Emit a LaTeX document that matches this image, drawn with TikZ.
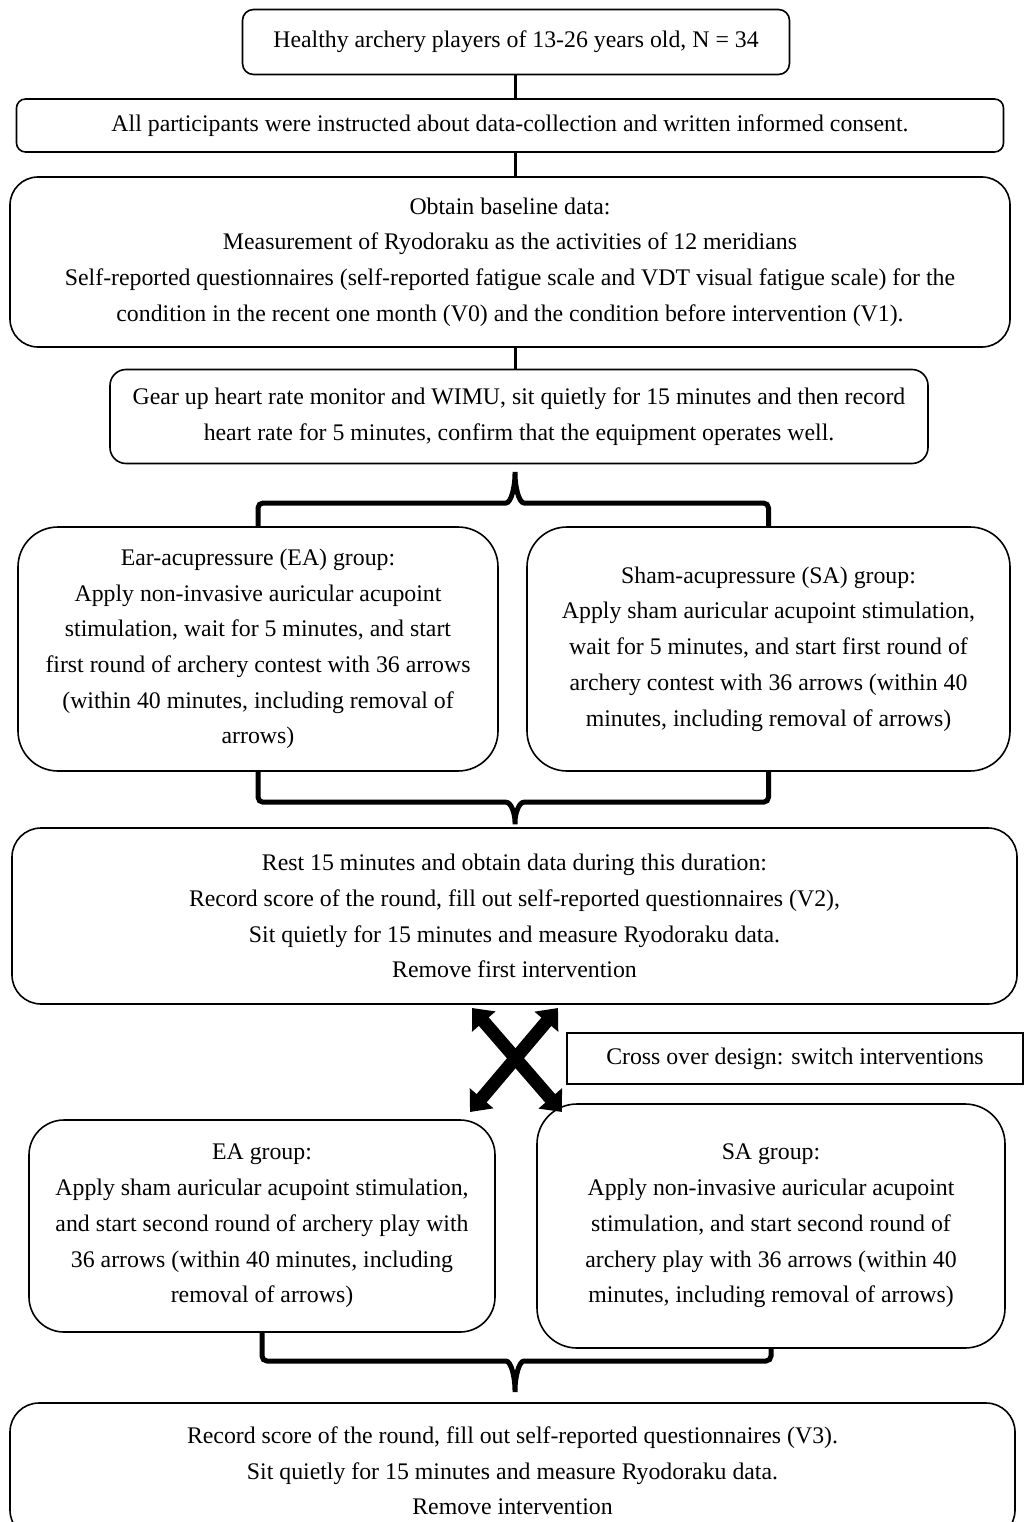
\documentclass[tikz,border=0pt]{standalone}
\usepackage{fontspec}
\setmainfont{Liberation Serif}
\usetikzlibrary{arrows.meta, calc, positioning}
\tikzset{
    box/.style={draw, line width=1.6pt, align=center, inner sep=0pt, font=\fontsize{23.8}{35.7}\selectfont},
    link/.style={line width=3pt},
    brace/.style={line width=5pt, rounded corners=5pt},
    swap/.style={line width=13pt, {Triangle[length=18pt,width=30pt]}-{Triangle[length=18pt,width=30pt]}}
}

\begin{document}
\begin{tikzpicture}[x=1pt, y=-1pt]
    \useasboundingbox (0,0) rectangle (1025,1522);
    \clip (0,0) rectangle (1025,1522);

    \node[box, rounded corners=11pt, minimum width=547pt, minimum height=65pt] (players) at (516,42) {Healthy archery players of 13-26 years old, N = 34};
    \node[box, rounded corners=9pt, minimum width=987pt, minimum height=53pt] (consent) at (510,125.5) {All participants were instructed about data-collection and written informed consent.};
    \node[box, rounded corners=28pt, minimum width=1000pt, minimum height=170pt] (baseline) at (510,262) {Obtain baseline data:\\
        Measurement of Ryodoraku as the activities of 12 meridians\\
        Self-reported questionnaires (self-reported fatigue scale and VDT visual fatigue scale) for the\\
        condition in the recent one month (V0) and the condition before intervention (V1).};
    \node[box, rounded corners=16pt, minimum width=818pt, minimum height=94pt] (gear) at (519,416.5) {Gear up heart rate monitor and WIMU, sit quietly for 15 minutes and then record\\
        heart rate for 5 minutes, confirm that the equipment operates well.};

    \node[box, rounded corners=40pt, minimum width=480pt, minimum height=244pt] (ea1) at (258,649) {Ear-acupressure (EA) group:\\
        Apply non-invasive auricular acupoint\\
        stimulation, wait for 5 minutes, and start\\
        first round of archery contest with 36 arrows\\
        (within 40 minutes, including removal of\\
        arrows)};
    \node[box, rounded corners=40pt, minimum width=483pt, minimum height=244pt] (sa1) at (768.5,649) {Sham-acupressure (SA) group:\\
        Apply sham auricular acupoint stimulation,\\
        wait for 5 minutes, and start first round of\\
        archery contest with 36 arrows (within 40\\
        minutes, including removal of arrows)};

    \node[box, rounded corners=29pt, minimum width=1005pt, minimum height=176pt] (rest) at (514.5,916) {Rest 15 minutes and obtain data during this duration:\\
        Record score of the round, fill out self-reported questionnaires (V2),\\
        Sit quietly for 15 minutes and measure Ryodoraku data.\\
        Remove first intervention};

    \node[box, minimum width=456pt, minimum height=51pt] (cross) at (795,1058.5) {Cross over design: switch interventions};

    \node[box, rounded corners=35pt, minimum width=466pt, minimum height=212pt] (ea2) at (262,1226) {EA group:\\
        Apply sham auricular acupoint stimulation,\\
        and start second round of archery play with\\
        36 arrows (within 40 minutes, including\\
        removal of arrows)};
    \node[box, rounded corners=40pt, minimum width=468pt, minimum height=244pt] (sa2) at (771,1226) {SA group:\\
        Apply non-invasive auricular acupoint\\
        stimulation, and start second round of\\
        archery play with 36 arrows (within 40\\
        minutes, including removal of arrows)};

    \node[box, rounded corners=29pt, minimum width=1005pt, minimum height=136pt] (final) at (512.5,1471) {Record score of the round, fill out self-reported questionnaires (V3).\\
        Sit quietly for 15 minutes and measure Ryodoraku data.\\
        Remove intervention};

    \coordinate (spine) at (515,0);
    \draw[link] (spine |- players.south) -- (spine |- consent.north);
    \draw[link] (spine |- consent.south) -- (spine |- baseline.north);
    \draw[link] (spine |- baseline.south) -- (spine |- gear.north);

    \coordinate (tip1) at (515,469);
    \draw[brace] (ea1.north) |- ($(tip1)+(-14,34)$) .. controls +(10,0) and +(0,18) .. (tip1) .. controls +(0,18) and +(-10,0) .. ($(tip1)+(14,34)$) -| (sa1.north);

    \coordinate (tip2) at (spine |- rest.north);
    \draw[brace] (ea1.south) |- ($(tip2)+(-14,-25)$) .. controls +(10,0) and +(0,-14) .. (tip2) .. controls +(0,-14) and +(-10,0) .. ($(tip2)+(14,-25)$) -| (sa1.south);

    \coordinate (tip3) at (515,1395);
    \draw[brace] (ea2.south) |- ($(tip3)+(-14,-34)$) .. controls +(10,0) and +(0,-18) .. (tip3) .. controls +(0,-18) and +(-10,0) .. ($(tip3)+(14,-34)$) -| (sa2.south);

    \coordinate (sw) at (470,1112);
    \coordinate (ne) at (558,1008);
    \coordinate (nw) at (472,1008);
    \coordinate (se) at (562,1112);
    \draw[swap] (sw) -- (ne);
    \draw[swap] (nw) -- (se);
\end{tikzpicture}
\end{document}
